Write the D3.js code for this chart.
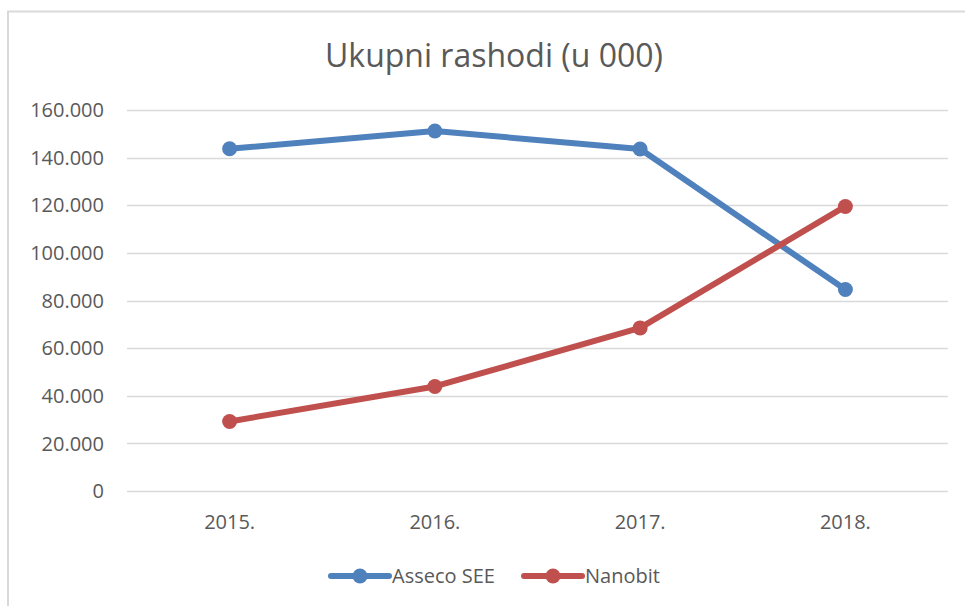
<!DOCTYPE html>
<html>
<head>
<meta charset="utf-8">
<script src="https://cdn.jsdelivr.net/npm/d3@7"></script>
<style>
  body { margin: 0; background: #fff; }
  text { font-family: "Open Sans", sans-serif; fill: #595959; }
</style>
</head>
<body>
<svg id="chart" width="965" height="606"></svg>
<script>
const years = ["2015.", "2016.", "2017.", "2018."];
const asseco = [143700, 151200, 143600, 84600];
const nanobit = [29200, 43900, 68500, 119500];
const yTicks = [0, 20000, 40000, 60000, 80000, 100000, 120000, 140000, 160000];
const seriesNames = ["Asseco SEE", "Nanobit"];
const colors = ["#4f81bd", "#c0504d"];

const svg = d3.select("#chart");
const margin = { top: 110, bottom: 115, left: 127, right: 17 };
const width = 965, height = 606;

// okvir grafikona
svg.append("rect")
  .attr("x", 8).attr("y", 11.5)
  .attr("width", width).attr("height", height)
  .attr("fill", "#fff").attr("stroke", "#d9d9d9")
  .attr("stroke-width", 2);

const x = d3.scaleBand()
  .domain(years)
  .range([margin.left, width - margin.right]);
const y = d3.scaleLinear()
  .domain([0, 160000])
  .range([height - margin.bottom, margin.top]);

const fmt = (v) => v === 0 ? "0" : d3.format(",")(v).replace(/,/g, ".");

// grid linije
svg.append("g")
  .selectAll("line")
  .data(yTicks)
  .join("line")
  .attr("x1", margin.left).attr("x2", width - margin.right)
  .attr("y1", (d) => Math.round(y(d)) + 0.5)
  .attr("y2", (d) => Math.round(y(d)) + 0.5)
  .attr("stroke", "#d9d9d9")
  .attr("stroke-width", 1.5);

// y oznake
svg.append("g")
  .selectAll("text")
  .data(yTicks)
  .join("text")
  .attr("x", 104)
  .attr("y", (d) => y(d))
  .attr("dy", "0.36em")
  .attr("text-anchor", "end")
  .attr("font-size", 20)
  .text(fmt);

// x oznake
svg.append("g")
  .selectAll("text")
  .data(years)
  .join("text")
  .attr("x", (d) => x(d) + x.bandwidth() / 2)
  .attr("y", 529)
  .attr("text-anchor", "middle")
  .attr("font-size", 20)
  .text((d) => d);

// naslov
svg.append("text")
  .attr("x", 494)
  .attr("y", 67)
  .attr("text-anchor", "middle")
  .attr("font-size", 32)
  .text("Ukupni rashodi (u 000)");

const line = d3.line()
  .x((d, i) => x(years[i]) + x.bandwidth() / 2)
  .y((d) => y(d));

[asseco, nanobit].forEach((vals, k) => {
  const g = svg.append("g");
  g.append("path")
    .datum(vals)
    .attr("d", line)
    .attr("fill", "none")
    .attr("stroke", colors[k])
    .attr("stroke-width", 6)
    .attr("stroke-linejoin", "round");
  g.selectAll("circle")
    .data(vals)
    .join("circle")
    .attr("cx", (d, i) => x(years[i]) + x.bandwidth() / 2)
    .attr("cy", (d) => y(d))
    .attr("r", 7.5)
    .attr("fill", colors[k]);
});

// legenda
const legendX = [331, 524];
svg.append("g")
  .selectAll("g")
  .data(seriesNames)
  .join("g")
  .attr("transform", (d, i) => `translate(${legendX[i]}, 576)`)
  .call((g) => {
    g.append("line")
      .attr("x1", 0).attr("x2", 58)
      .attr("stroke", (d, i) => colors[i])
      .attr("stroke-width", 6)
      .attr("stroke-linecap", "round");
    g.append("circle")
      .attr("cx", 29).attr("r", 7.5)
      .attr("fill", (d, i) => colors[i]);
    g.append("text")
      .attr("x", 61)
      .attr("dy", "0.36em")
      .attr("font-size", 20)
      .text((d) => d);
  });
</script>
</body>
</html>
